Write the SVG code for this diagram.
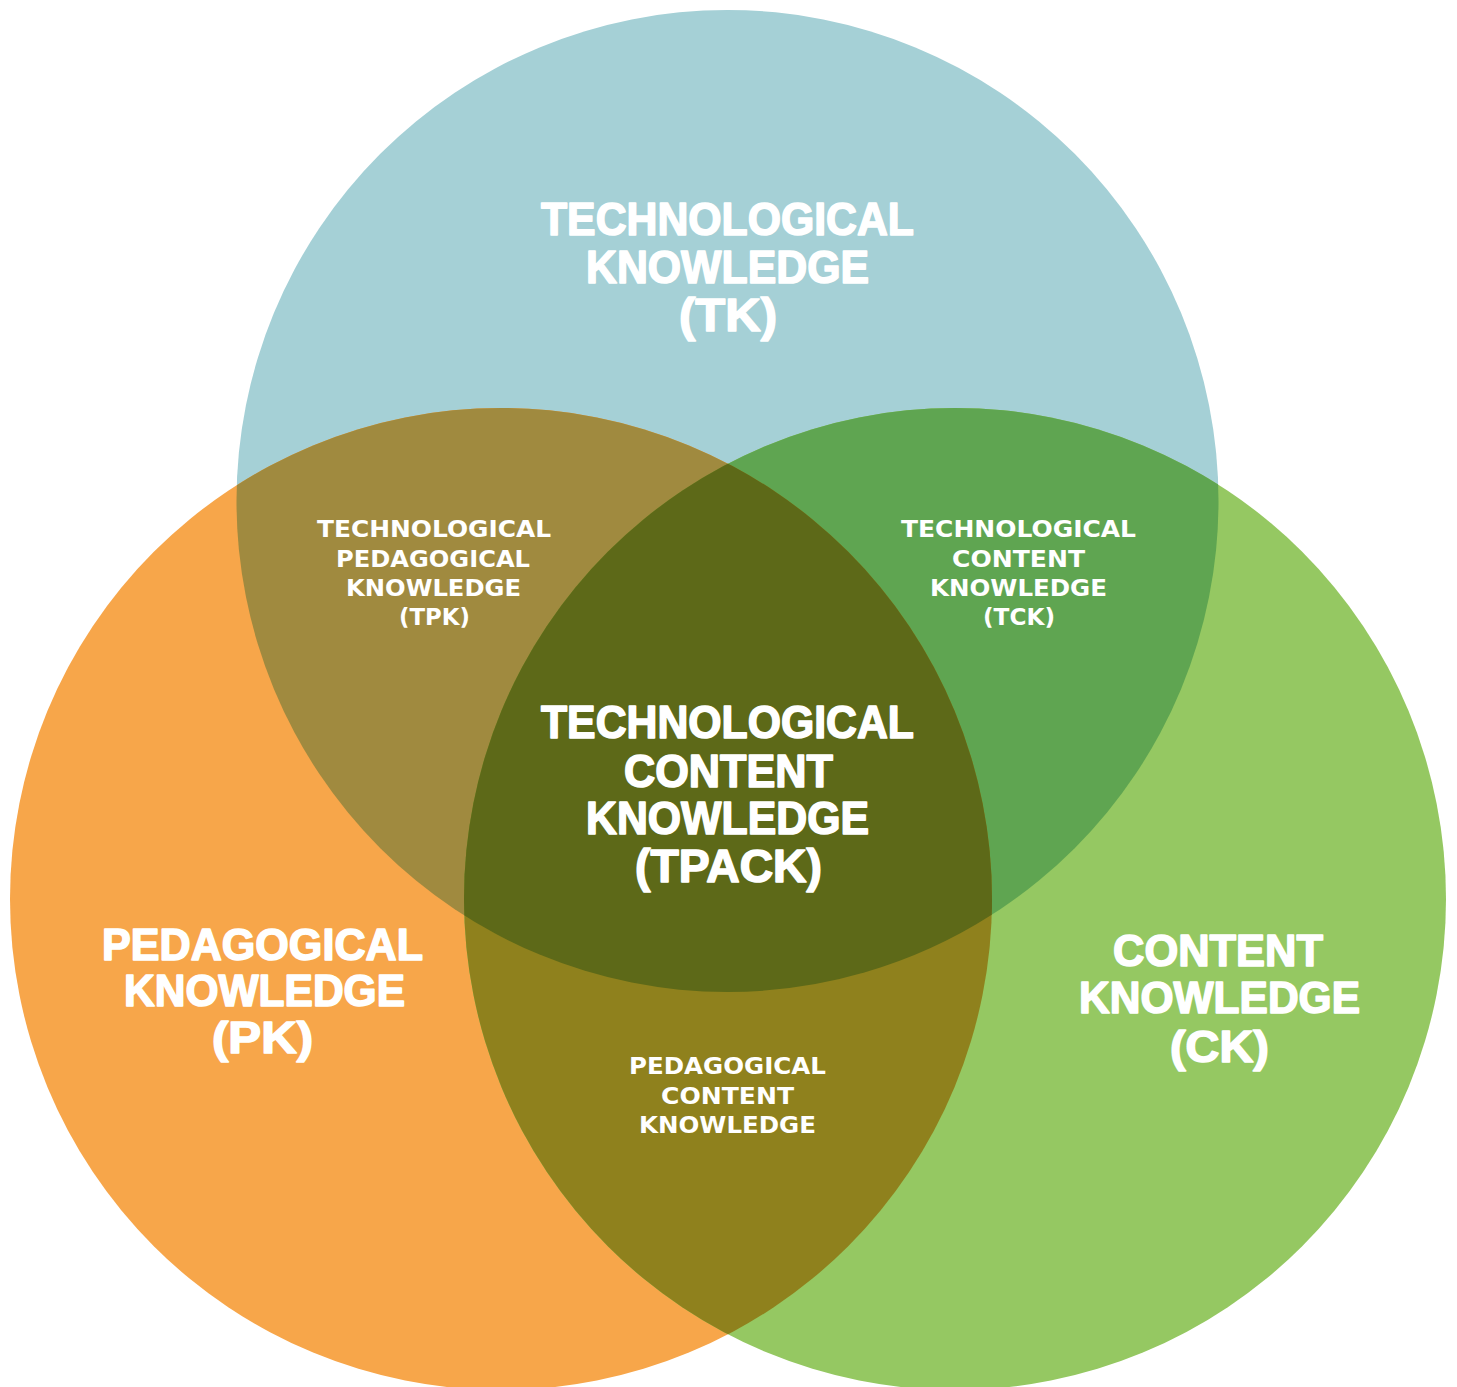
<svg xmlns="http://www.w3.org/2000/svg" width="1457" height="1387" viewBox="0 0 1457 1387">
<style>
.big{font-family:"Liberation Sans",Arial,sans-serif;font-weight:700;fill:#ffffff;stroke:#ffffff;stroke-width:1.6;stroke-linejoin:round}
.sm{font-family:"DejaVu Sans","Liberation Sans",sans-serif;font-weight:700;font-size:23px;fill:#ffffff}
</style>
<defs>
<clipPath id="cT"><circle cx="727.5" cy="501" r="491"/></clipPath>
<clipPath id="cP"><circle cx="501" cy="899" r="491"/></clipPath>
<clipPath id="cPT" clip-path="url(#cT)"><circle cx="501" cy="899" r="491"/></clipPath>
</defs>
<rect width="1457" height="1387" fill="#ffffff"/>
<g id="circles">
<circle id="tk-circle" cx="727.5" cy="501" r="491" fill="#a5d0d6"/>
<circle id="pk-circle" cx="501" cy="899" r="491" fill="#f7a64a"/>
<circle id="ck-circle" cx="955" cy="899" r="491" fill="#95c862"/>
<circle id="tpk-region" cx="501" cy="899" r="491" fill="#a08a3f" clip-path="url(#cT)"/>
<circle id="tck-region" cx="955" cy="899" r="491" fill="#5fa551" clip-path="url(#cT)"/>
<circle id="pck-region" cx="955" cy="899" r="491" fill="#8f811d" clip-path="url(#cP)"/>
<circle id="tpack-region" cx="955" cy="899" r="491" fill="#5d6918" clip-path="url(#cPT)"/>
</g>
<g id="tk">
<text class="big" font-size="46" x="541" y="235" textLength="373" lengthAdjust="spacingAndGlyphs">TECHNOLOGICAL</text>
<text class="big" font-size="46" x="586" y="283" textLength="283" lengthAdjust="spacingAndGlyphs">KNOWLEDGE</text>
<text class="big" font-size="46" x="679" y="331" textLength="98" lengthAdjust="spacingAndGlyphs">(TK)</text>
</g>
<g id="tpack">
<text class="big" font-size="46" x="541" y="738" textLength="373" lengthAdjust="spacingAndGlyphs">TECHNOLOGICAL</text>
<text class="big" font-size="46" x="624" y="786.5" textLength="209" lengthAdjust="spacingAndGlyphs">CONTENT</text>
<text class="big" font-size="46" x="586" y="834" textLength="283" lengthAdjust="spacingAndGlyphs">KNOWLEDGE</text>
<text class="big" font-size="46" x="635" y="882" textLength="187" lengthAdjust="spacingAndGlyphs">(TPACK)</text>
</g>
<g id="pk">
<text class="big" font-size="44" x="102" y="959.5" textLength="321" lengthAdjust="spacingAndGlyphs">PEDAGOGICAL</text>
<text class="big" font-size="44" x="124" y="1006" textLength="281" lengthAdjust="spacingAndGlyphs">KNOWLEDGE</text>
<text class="big" font-size="44" x="212" y="1053" textLength="101" lengthAdjust="spacingAndGlyphs">(PK)</text>
</g>
<g id="ck">
<text class="big" font-size="44" x="1113" y="965.5" textLength="210" lengthAdjust="spacingAndGlyphs">CONTENT</text>
<text class="big" font-size="44" x="1079" y="1013" textLength="281" lengthAdjust="spacingAndGlyphs">KNOWLEDGE</text>
<text class="big" font-size="44" x="1170" y="1061.5" textLength="99" lengthAdjust="spacingAndGlyphs">(CK)</text>
</g>
<g id="tpk">
<text class="sm" x="317" y="537" textLength="234" lengthAdjust="spacingAndGlyphs">TECHNOLOGICAL</text>
<text class="sm" x="336" y="567" textLength="194" lengthAdjust="spacingAndGlyphs">PEDAGOGICAL</text>
<text class="sm" x="346" y="596" textLength="175" lengthAdjust="spacingAndGlyphs">KNOWLEDGE</text>
<text class="sm" x="399" y="625" textLength="71" lengthAdjust="spacingAndGlyphs">(TPK)</text>
</g>
<g id="tck">
<text class="sm" x="901" y="537" textLength="235" lengthAdjust="spacingAndGlyphs">TECHNOLOGICAL</text>
<text class="sm" x="952" y="567" textLength="133" lengthAdjust="spacingAndGlyphs">CONTENT</text>
<text class="sm" x="930" y="596" textLength="177" lengthAdjust="spacingAndGlyphs">KNOWLEDGE</text>
<text class="sm" x="983" y="625" textLength="72" lengthAdjust="spacingAndGlyphs">(TCK)</text>
</g>
<g id="pck">
<text class="sm" x="629" y="1074" textLength="197" lengthAdjust="spacingAndGlyphs">PEDAGOGICAL</text>
<text class="sm" x="661" y="1104" textLength="133" lengthAdjust="spacingAndGlyphs">CONTENT</text>
<text class="sm" x="639" y="1133" textLength="177" lengthAdjust="spacingAndGlyphs">KNOWLEDGE</text>
</g>
</svg>
